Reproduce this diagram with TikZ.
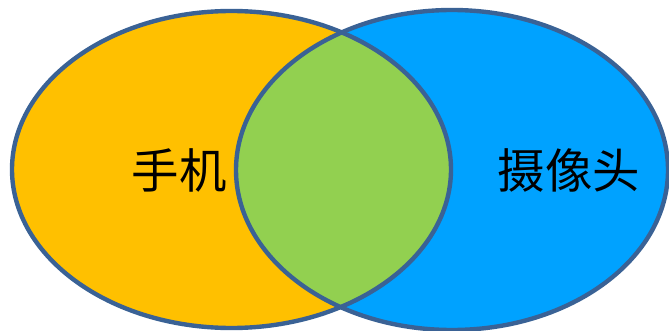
\documentclass[tikz,border=0pt]{standalone}
\usepackage{fontspec}
\newfontfamily\cjk{Noto Sans CJK SC}
\usetikzlibrary{positioning}
\definecolor{PhoneGold}{HTML}{FFC000}
\definecolor{CamBlue}{HTML}{00A2FF}
\definecolor{BothGreen}{HTML}{92D050}
\definecolor{RimBlue}{HTML}{3A6295}

\begin{document}
\begin{tikzpicture}[x=0.02cm, y=-0.02cm,
  rim/.style={draw=RimBlue, line width=2.5pt},
  label/.style={font=\cjk\fontsize{27}{31}\selectfont, text=black, inner sep=0pt}
]
\useasboundingbox (0,0) rectangle (669,331);
% the two sets
\fill[PhoneGold] (231.5,169.5) ellipse [x radius=219.5, y radius=158.5];
\fill[CamBlue]   (452,170) ellipse [x radius=216, y radius=160];
% overlap
\begin{scope}
  \clip (231.5,169.5) ellipse [x radius=219.5, y radius=158.5];
  \fill[BothGreen] (452,170) ellipse [x radius=216, y radius=160];
\end{scope}
\draw[rim] (231.5,169.5) ellipse [x radius=219.5, y radius=158.5];
\draw[rim] (452,170) ellipse [x radius=216, y radius=160];

\node[label] (phone)  at (179,170) {手机};
\node[label] (camera) at (569,170) {摄像头};
\end{tikzpicture}
\end{document}
